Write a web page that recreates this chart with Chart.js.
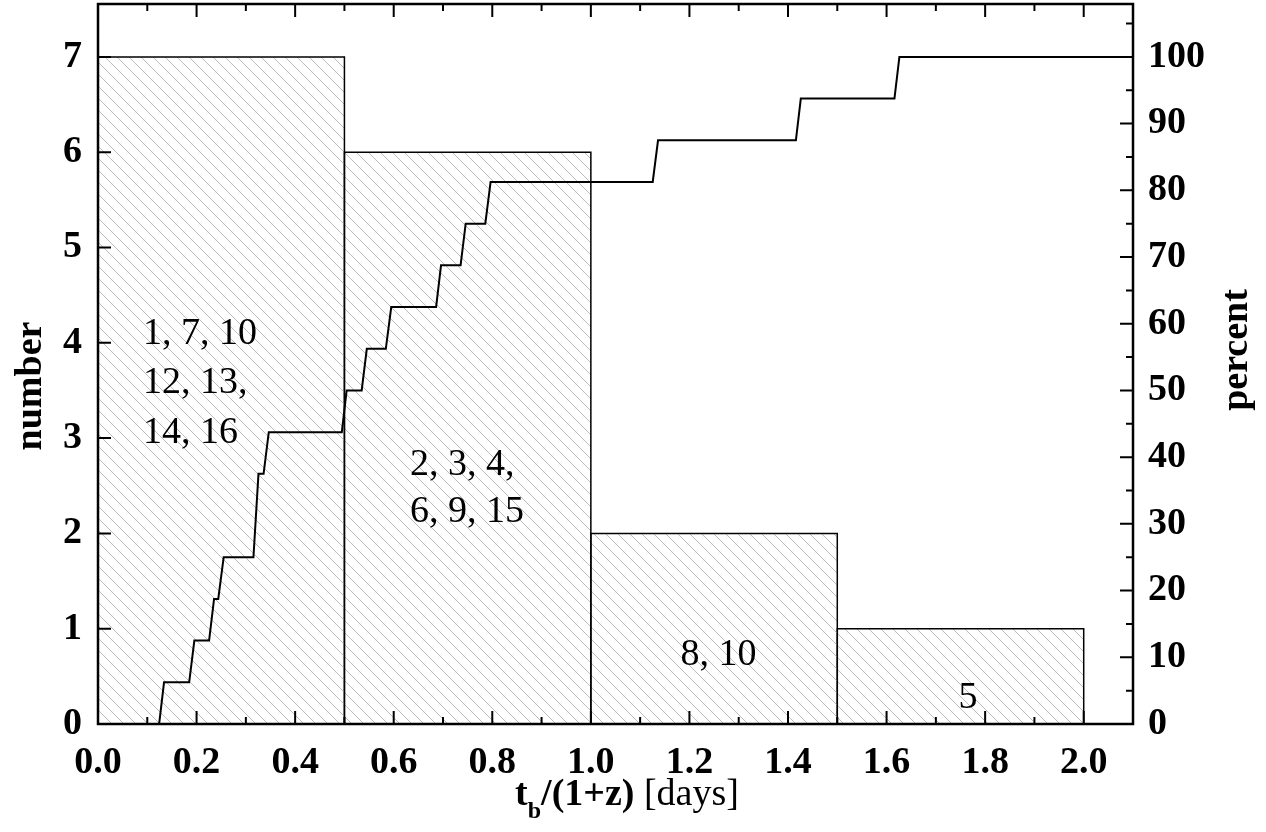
<!DOCTYPE html>
<html>
<head>
<meta charset="utf-8">
<script src="https://cdn.jsdelivr.net/npm/chart.js@4/dist/chart.umd.min.js"></script>
<style>
  html, body { margin: 0; padding: 0; background: #fff; }
  #wrap { width: 1266px; height: 832px; }
</style>
</head>
<body>
<div id="wrap"><canvas id="chart"></canvas></div>
<script>
// histogram bins (t_b/(1+z) in days) and counts
const binStarts = [0.0, 0.5, 1.0, 1.5];
const binWidth = 0.5;
const counts = [7, 6, 2, 1];

// cumulative percent (vertices of the step line)
const stepX = [0.124, 0.134, 0.185, 0.1955, 0.2254, 0.2355, 0.244, 0.255, 0.3154, 0.3256,
  0.336, 0.3465, 0.4947, 0.5045, 0.535, 0.5454, 0.584, 0.595, 0.686, 0.696,
  0.7357, 0.746, 0.7858, 0.7966, 1.1255, 1.1363, 1.416, 1.426, 1.616, 1.626, 2.1];
const stepY = [0, 6.25, 6.25, 12.5, 12.5, 18.75, 18.75, 25, 25, 37.5,
  37.5, 43.75, 43.75, 50, 50, 56.25, 56.25, 62.5, 62.5, 68.75,
  68.75, 75, 75, 81.25, 81.25, 87.5, 87.5, 93.75, 93.75, 100, 100];

// burst labels inside the bins
const labelLines = ['1, 7, 10', '12, 13,', '14, 16', '2, 3, 4,', '6, 9, 15', '8, 10', '5'];
const labelX = [0.0914, 0.0914, 0.0914, 0.633, 0.633, 1.182, 1.746];
const labelY = [3.99, 3.47, 2.95, 2.61, 2.12, 0.62, 0.168];

// ticks
const xTicks = [0.0, 0.2, 0.4, 0.6, 0.8, 1.0, 1.2, 1.4, 1.6, 1.8, 2.0];
const xMinor = [0.1, 0.3, 0.5, 0.7, 0.9, 1.1, 1.3, 1.5, 1.7, 1.9];
const yTicks = [0, 1, 2, 3, 4, 5, 6, 7];
const pTicks = [0, 10, 20, 30, 40, 50, 60, 70, 80, 90, 100];
const pMinor = [5, 15, 25, 35, 45, 55, 65, 75, 85, 95, 105];

const serif = "'Liberation Serif', 'Times New Roman', serif";

// hatch pattern like the original
function makeHatch() {
  const c = document.createElement('canvas');
  c.width = 12; c.height = 12;
  const g = c.getContext('2d');
  g.strokeStyle = '#bdbdbd';
  g.lineWidth = 1;
  g.beginPath();
  g.moveTo(0, 0); g.lineTo(12, 12);
  g.moveTo(-2, 10); g.lineTo(2, 14);
  g.moveTo(10, -2); g.lineTo(14, 2);
  g.stroke();
  return g.createPattern(c, 'repeat');
}
const hatch = makeHatch();

const binSets = binStarts.map((x0, i) => ({
  type: 'line',
  yAxisID: 'y',
  order: 1,
  data: [
    { x: x0, y: 0 }, { x: x0, y: counts[i] },
    { x: x0 + binWidth, y: counts[i] }, { x: x0 + binWidth, y: 0 }
  ],
  borderColor: '#000',
  borderWidth: 1.5,
  backgroundColor: hatch,
  fill: 'origin',
  pointRadius: 0,
  tension: 0
}));

const stepSet = {
  type: 'line',
  yAxisID: 'y2',
  order: 0,
  data: stepX.map((x, i) => ({ x: x, y: stepY[i] })),
  borderColor: '#000',
  borderWidth: 2,
  fill: false,
  pointRadius: 0,
  tension: 0
};

// box, inward ticks, titles and labels
const decorPlugin = {
  id: 'decor',
  afterDraw(chart) {
    const g = chart.ctx;
    const a = chart.chartArea;
    const sx = chart.scales.x, sy = chart.scales.y, sp = chart.scales.y2;
    g.save();
    g.strokeStyle = '#000';
    g.lineWidth = 2.5;
    g.strokeRect(a.left, a.top, a.right - a.left, a.bottom - a.top);

    g.lineWidth = 2;
    g.beginPath();
    const vtick = (v, len) => {
      const px = sx.getPixelForValue(v);
      g.moveTo(px, a.bottom); g.lineTo(px, a.bottom - len);
      g.moveTo(px, a.top); g.lineTo(px, a.top + len);
    };
    xTicks.forEach(v => vtick(v, 13));
    xMinor.forEach(v => vtick(v, 7));
    yTicks.forEach(v => {
      const py = sy.getPixelForValue(v);
      g.moveTo(a.left, py); g.lineTo(a.left + 13, py);
    });
    pTicks.forEach(v => {
      const py = sp.getPixelForValue(v);
      g.moveTo(a.right, py); g.lineTo(a.right - 13, py);
    });
    pMinor.forEach(v => {
      const py = sp.getPixelForValue(v);
      g.moveTo(a.right, py); g.lineTo(a.right - 7, py);
    });
    g.stroke();

    // labels in bins
    g.fillStyle = '#000';
    g.font = '38px ' + serif;
    g.textAlign = 'left';
    g.textBaseline = 'alphabetic';
    labelLines.forEach((t, i) => {
      g.fillText(t, sx.getPixelForValue(labelX[i]), sy.getPixelForValue(labelY[i]));
    });

    // y titles
    g.font = 'bold 38px ' + serif;
    g.textAlign = 'center';
    g.save();
    g.translate(41, 386);
    g.rotate(-Math.PI / 2);
    g.fillText('number', 0, 0);
    g.restore();
    g.save();
    g.translate(1247, 350);
    g.rotate(-Math.PI / 2);
    g.fillText('percent', 0, 0);
    g.restore();

    // x title with subscript
    const parts = [
      { t: 't', f: 'bold 38px ' + serif, dy: 0 },
      { t: 'b', f: 'bold 24px ' + serif, dy: 13 },
      { t: '/(1+z)', f: 'bold 38px ' + serif, dy: 0 },
      { t: ' [days]', f: '38px ' + serif, dy: 0 }
    ];
    let total = 0;
    parts.forEach(p => { g.font = p.f; p.w = g.measureText(p.t).width; total += p.w; });
    let x = 627 - total / 2;
    g.textAlign = 'left';
    parts.forEach(p => {
      g.font = p.f;
      g.fillText(p.t, x, 805 + p.dy);
      x += p.w;
    });
    g.restore();
  }
};

const tickFont = { family: serif, size: 38, weight: 'bold' };

// fixed axis sizes, no extra label padding around the plot area
function fixSize(prop, size) {
  return s => {
    s[prop] = size;
    s.paddingTop = 0; s.paddingBottom = 0;
    s.paddingLeft = 0; s.paddingRight = 0;
  };
}

new Chart(document.getElementById('chart'), {
  data: { datasets: binSets.concat([stepSet]) },
  options: {
    responsive: true,
    maintainAspectRatio: false,
    animation: false,
    devicePixelRatio: 1,
    layout: { padding: { top: 4, left: 0, right: 0, bottom: 0 } },
    plugins: { legend: { display: false }, tooltip: { enabled: false } },
    scales: {
      x: {
        type: 'linear',
        position: 'bottom',
        min: 0,
        max: 2.1,
        grid: { display: false, drawTicks: false },
        border: { display: false },
        afterBuildTicks: s => { s.ticks = xTicks.map(v => ({ value: v })); },
        afterFit: fixSize('height', 108),
        ticks: {
          autoSkip: false,
          maxRotation: 0,
          padding: 16,
          color: '#000',
          font: tickFont,
          callback: v => Number(v).toFixed(1)
        }
      },
      y: {
        type: 'linear',
        position: 'left',
        min: 0,
        max: 7.555,
        grid: { display: false, drawTicks: false },
        border: { display: false },
        afterBuildTicks: s => { s.ticks = yTicks.map(v => ({ value: v })); },
        afterFit: fixSize('width', 98),
        ticks: { autoSkip: false, padding: 16, color: '#000', font: tickFont }
      },
      y2: {
        type: 'linear',
        position: 'right',
        min: 0,
        max: 107.93,
        grid: { display: false, drawTicks: false },
        border: { display: false },
        afterBuildTicks: s => { s.ticks = pTicks.map(v => ({ value: v })); },
        afterFit: fixSize('width', 133),
        ticks: { autoSkip: false, padding: 15, color: '#000', font: tickFont }
      }
    }
  },
  plugins: [decorPlugin]
});
</script>
</body>
</html>
